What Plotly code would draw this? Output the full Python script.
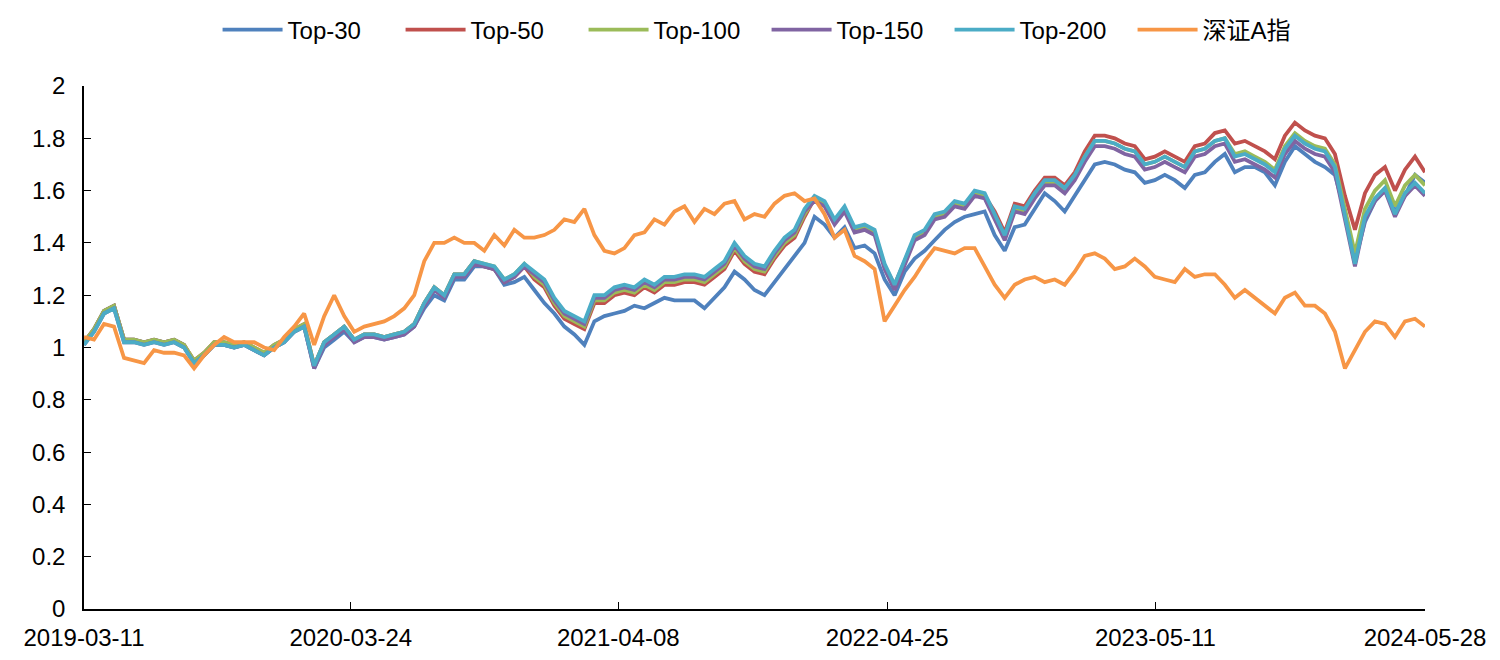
import pandas as pd
import plotly.graph_objects as go

start_date = "2019-03-11"
end_date = "2024-05-28"
n_points = 135
tick_dates = ["2019-03-11", "2020-03-24", "2021-04-08", "2022-04-25", "2023-05-11", "2024-05-28"]

series_names = ["Top-30", "Top-50", "Top-100", "Top-150", "Top-200", "深证A指"]

top30 = [1.02,1.07,1.14,1.16,1.03,1.03,1.02,1.03,1.02,1.03,
         1.01,0.94,0.97,1.01,1.01,1.00,1.01,0.99,0.97,1.00,
         1.02,1.06,1.08,0.92,1.00,1.03,1.06,1.02,1.04,1.04,
         1.03,1.04,1.05,1.08,1.15,1.20,1.18,1.26,1.26,1.31,
         1.31,1.30,1.24,1.25,1.27,1.22,1.17,1.13,1.08,1.05,
         1.01,1.10,1.12,1.13,1.14,1.16,1.15,1.17,1.19,1.18,
         1.18,1.18,1.15,1.19,1.23,1.29,1.26,1.22,1.20,1.25,
         1.30,1.35,1.40,1.50,1.47,1.42,1.46,1.38,1.39,1.36,
         1.26,1.20,1.29,1.34,1.37,1.41,1.45,1.48,1.50,1.51,
         1.52,1.43,1.37,1.46,1.47,1.53,1.59,1.56,1.52,1.58,
         1.64,1.70,1.71,1.70,1.68,1.67,1.63,1.64,1.66,1.64,
         1.61,1.66,1.67,1.71,1.74,1.67,1.69,1.69,1.67,1.62,
         1.71,1.77,1.74,1.71,1.69,1.66,1.52,1.33,1.48,1.56,
         1.60,1.52,1.58,1.66,1.63]

top50 = [1.02,1.07,1.14,1.16,1.03,1.03,1.02,1.03,1.02,1.03,
         1.01,0.95,0.98,1.02,1.02,1.01,1.02,1.00,0.98,1.01,
         1.03,1.07,1.09,0.93,1.02,1.05,1.08,1.03,1.05,1.05,
         1.04,1.05,1.06,1.09,1.17,1.23,1.20,1.28,1.28,1.33,
         1.31,1.30,1.25,1.27,1.31,1.26,1.23,1.16,1.11,1.09,
         1.07,1.17,1.17,1.20,1.21,1.20,1.23,1.21,1.24,1.24,
         1.25,1.25,1.24,1.27,1.30,1.37,1.32,1.29,1.28,1.34,
         1.39,1.42,1.50,1.57,1.55,1.48,1.53,1.45,1.46,1.44,
         1.31,1.24,1.33,1.42,1.44,1.50,1.51,1.55,1.54,1.59,
         1.58,1.52,1.44,1.55,1.54,1.60,1.65,1.65,1.62,1.67,
         1.75,1.81,1.81,1.80,1.78,1.77,1.72,1.73,1.75,1.73,
         1.71,1.77,1.78,1.82,1.83,1.78,1.79,1.77,1.75,1.72,
         1.81,1.86,1.83,1.81,1.80,1.74,1.58,1.45,1.59,1.66,
         1.69,1.60,1.68,1.73,1.67]

top100 = [1.02,1.07,1.14,1.16,1.03,1.03,1.02,1.03,1.02,1.03,
          1.01,0.95,0.98,1.02,1.02,1.01,1.02,1.00,0.98,1.01,
          1.03,1.07,1.09,0.93,1.02,1.05,1.08,1.03,1.05,1.05,
          1.04,1.05,1.06,1.09,1.17,1.23,1.20,1.28,1.28,1.33,
          1.32,1.31,1.26,1.28,1.32,1.27,1.24,1.17,1.12,1.10,
          1.08,1.18,1.18,1.21,1.22,1.21,1.24,1.22,1.25,1.25,
          1.26,1.26,1.25,1.28,1.31,1.38,1.33,1.30,1.29,1.35,
          1.40,1.43,1.51,1.57,1.55,1.48,1.53,1.45,1.46,1.44,
          1.31,1.23,1.33,1.42,1.44,1.50,1.51,1.55,1.54,1.59,
          1.58,1.50,1.42,1.53,1.52,1.58,1.63,1.63,1.60,1.65,
          1.73,1.79,1.79,1.78,1.76,1.75,1.70,1.71,1.73,1.71,
          1.69,1.75,1.76,1.79,1.80,1.74,1.75,1.73,1.71,1.68,
          1.77,1.82,1.79,1.77,1.76,1.70,1.53,1.36,1.53,1.60,
          1.64,1.54,1.62,1.66,1.62]

top150 = [1.01,1.06,1.13,1.15,1.02,1.02,1.01,1.02,1.01,1.02,
          1.00,0.94,0.97,1.01,1.01,1.00,1.01,0.99,0.97,1.00,
          1.02,1.06,1.08,0.92,1.01,1.04,1.07,1.02,1.04,1.04,
          1.03,1.04,1.05,1.08,1.16,1.22,1.19,1.27,1.27,1.32,
          1.31,1.30,1.25,1.27,1.31,1.28,1.25,1.18,1.13,1.11,
          1.09,1.19,1.19,1.22,1.23,1.22,1.25,1.23,1.26,1.26,
          1.27,1.27,1.26,1.29,1.32,1.39,1.34,1.31,1.30,1.36,
          1.41,1.44,1.52,1.56,1.54,1.47,1.52,1.44,1.45,1.43,
          1.30,1.22,1.32,1.41,1.43,1.49,1.50,1.54,1.53,1.58,
          1.57,1.49,1.41,1.52,1.51,1.57,1.62,1.62,1.59,1.64,
          1.71,1.77,1.77,1.76,1.74,1.73,1.68,1.69,1.71,1.69,
          1.67,1.73,1.74,1.77,1.78,1.71,1.72,1.70,1.68,1.65,
          1.74,1.79,1.76,1.74,1.73,1.67,1.49,1.31,1.49,1.56,
          1.60,1.50,1.58,1.62,1.58]

top200 = [1.01,1.06,1.13,1.15,1.02,1.02,1.01,1.02,1.01,1.02,
          1.00,0.94,0.97,1.01,1.01,1.00,1.01,0.99,0.97,1.00,
          1.02,1.06,1.08,0.93,1.02,1.05,1.08,1.03,1.05,1.05,
          1.04,1.05,1.06,1.09,1.17,1.23,1.20,1.28,1.28,1.33,
          1.32,1.31,1.26,1.28,1.32,1.29,1.26,1.19,1.14,1.12,
          1.10,1.20,1.20,1.23,1.24,1.23,1.26,1.24,1.27,1.27,
          1.28,1.28,1.27,1.30,1.33,1.40,1.35,1.32,1.31,1.37,
          1.42,1.45,1.53,1.58,1.56,1.49,1.54,1.46,1.47,1.45,
          1.32,1.24,1.34,1.43,1.45,1.51,1.52,1.56,1.55,1.60,
          1.59,1.51,1.43,1.54,1.53,1.59,1.64,1.64,1.61,1.66,
          1.73,1.79,1.79,1.78,1.76,1.75,1.70,1.71,1.73,1.71,
          1.69,1.75,1.76,1.79,1.80,1.73,1.74,1.72,1.70,1.67,
          1.76,1.81,1.78,1.76,1.75,1.69,1.50,1.32,1.50,1.57,
          1.61,1.51,1.59,1.63,1.59]

szA = [1.04,1.03,1.09,1.08,0.96,0.95,0.94,0.99,0.98,0.98,
       0.97,0.92,0.97,1.01,1.04,1.02,1.02,1.02,1.00,0.99,
       1.04,1.08,1.13,1.01,1.12,1.20,1.12,1.06,1.08,1.09,
       1.10,1.12,1.15,1.20,1.33,1.40,1.40,1.42,1.40,1.40,
       1.37,1.43,1.39,1.45,1.42,1.42,1.43,1.45,1.49,1.48,
       1.53,1.43,1.37,1.36,1.38,1.43,1.44,1.49,1.47,1.52,
       1.54,1.48,1.53,1.51,1.55,1.56,1.49,1.51,1.50,1.55,
       1.58,1.59,1.56,1.57,1.51,1.42,1.45,1.35,1.33,1.30,
       1.10,1.16,1.22,1.27,1.33,1.38,1.37,1.36,1.38,1.38,
       1.31,1.24,1.19,1.24,1.26,1.27,1.25,1.26,1.24,1.29,
       1.35,1.36,1.34,1.30,1.31,1.34,1.31,1.27,1.26,1.25,
       1.30,1.27,1.28,1.28,1.24,1.19,1.22,1.19,1.16,1.13,
       1.19,1.21,1.16,1.16,1.13,1.06,0.92,0.99,1.06,1.10,
       1.09,1.04,1.10,1.11,1.08]

colors = ["#4F81BD", "#C0504D", "#9BBB59", "#8064A2", "#4BACC6", "#F79646"]

dates = pd.date_range(start_date, end_date, periods=n_points)
all_series = [top30, top50, top100, top150, top200, szA]

fig = go.Figure()
for name, vals, col in zip(series_names, all_series, colors):
    fig.add_trace(go.Scatter(x=dates, y=vals, mode="lines", name=name,
                             line=dict(color=col, width=3.8)))

font_family = "Liberation Sans, Arial, Noto Sans CJK SC, sans-serif"
fig.update_layout(
    width=1500, height=660,
    margin=dict(l=76, r=83, t=78, b=59, autoexpand=False),
    paper_bgcolor="white", plot_bgcolor="white",
    font=dict(family=font_family, size=24, color="black"),
    showlegend=True,
    legend=dict(orientation="h", x=0.509, xanchor="center", y=1.107, yanchor="middle",
                font=dict(size=24), itemwidth=60, entrywidth=108, entrywidthmode="pixels",
                tracegroupgap=0),
)
fig.update_xaxes(
    type="date", range=[start_date, end_date],
    tickmode="array", tickvals=tick_dates, ticktext=tick_dates,
    ticks="inside", ticklen=7, tickwidth=1, tickcolor="black",
    showline=True, linecolor="black", linewidth=2, showgrid=False, zeroline=False,
    tickfont=dict(size=24), ticklabelstandoff=6,
)
fig.update_yaxes(
    range=[0, 2], dtick=0.2, tick0=0,
    ticks="inside", ticklen=7, tickwidth=1, tickcolor="black",
    showline=True, linecolor="black", linewidth=1.5, showgrid=False, zeroline=False,
    tickfont=dict(size=24), ticklabelstandoff=12,
)
fig.write_html("out.html")
